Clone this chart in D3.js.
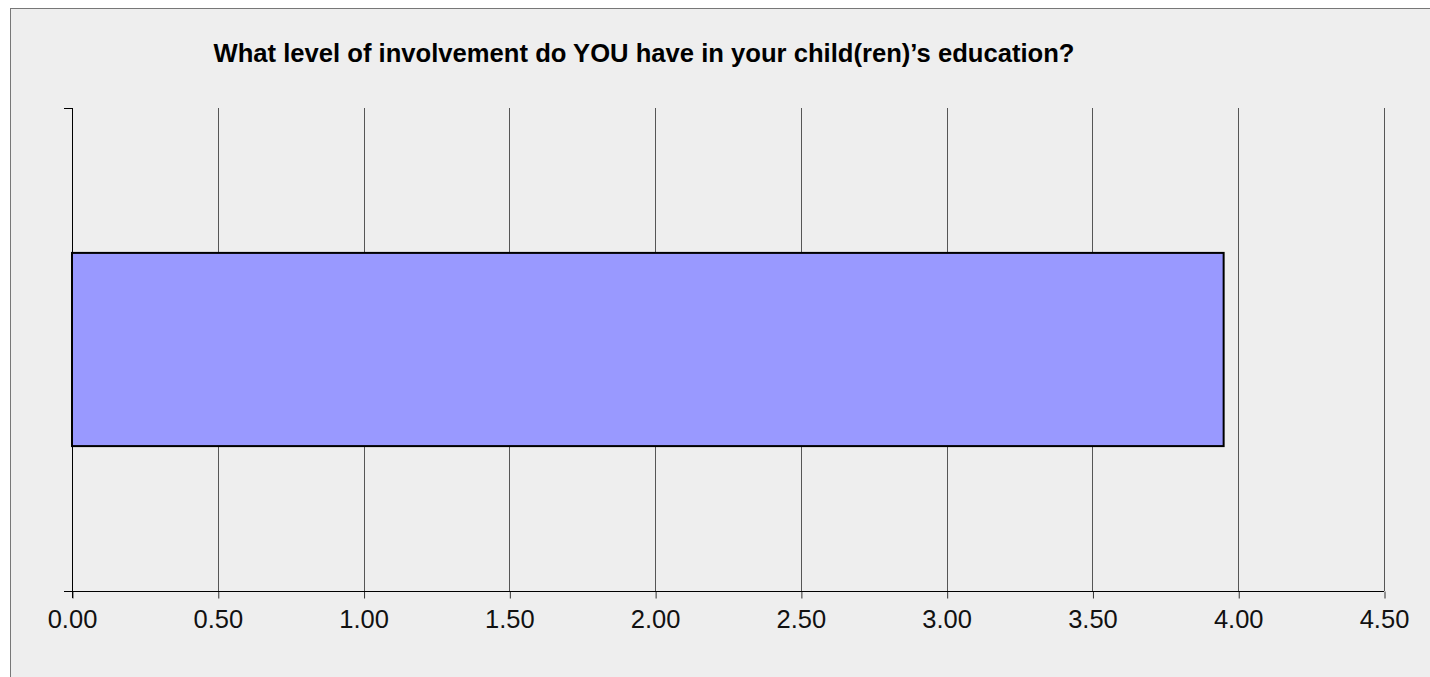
<!DOCTYPE html>
<html>
<head>
<meta charset="utf-8">
<script src="https://cdn.jsdelivr.net/npm/d3@7"></script>
<style>
  html, body { margin: 0; padding: 0; background: #ffffff; }
  svg { display: block; }
</style>
</head>
<body>
<div id="viz"></div>
<script>
// chart data
var categories = ["What level of involvement do YOU have in your child(ren)'s education?"];
var values = [3.95];
var tickValues = [0, 0.5, 1, 1.5, 2, 2.5, 3, 3.5, 4, 4.5];
var chartTitle = "What level of involvement do YOU have in your child(ren)\u2019s education?";

var width = 1430, height = 677;
var plotLeft = 72, plotRight = 1384, plotTop = 108, plotBottom = 591;

var svg = d3.select("#viz")
	.append("svg")
	.attr("width", width)
	.attr("height", height);

// panel background with border on left and top
svg.append("rect")
	.attr("x", 10.5).attr("y", 8.5)
	.attr("width", width).attr("height", height)
	.style("fill", "#eeeeee")
	.style("stroke", "#777777")
	.style("stroke-width", 1);

var x = d3.scaleLinear().domain([0, 4.5]).range([plotLeft, plotRight]);
var y = d3.scaleBand().domain(categories).range([plotTop, plotBottom]).paddingInner(0).paddingOuter(0.75);

// vertical grid lines
svg.append("g")
	.selectAll("line")
	.data(tickValues.slice(1))
	.enter().append("line")
	.attr("x1", function(d){ return Math.round(x(d)) + 0.5; })
	.attr("x2", function(d){ return Math.round(x(d)) + 0.5; })
	.attr("y1", plotTop)
	.attr("y2", plotBottom)
	.style("stroke", "#555555")
	.style("stroke-width", 1);

// bar
svg.append("g")
	.selectAll("rect")
	.data(values)
	.enter().append("rect")
	.attr("x", x(0))
	.attr("y", function(d, i){ return y(categories[i]); })
	.attr("width", function(d){ return x(d) - x(0); })
	.attr("height", y.bandwidth())
	.style("fill", "#9999ff")
	.style("stroke", "#000000")
	.style("stroke-width", 2);

// x axis
var xAxis = svg.append("g")
	.attr("transform", "translate(0," + (plotBottom + 0.5) + ")")
	.call(d3.axisBottom(x).tickValues(tickValues).tickFormat(d3.format(".2f")).tickSize(7).tickSizeOuter(0));
xAxis.select(".domain").remove();
xAxis.selectAll(".tick line").attr("stroke", "#333333").attr("transform", "translate(0.5,0)");
xAxis.selectAll(".tick text")
	.attr("dy", "0")
	.attr("y", 36)
	.style("font-family", "'Liberation Sans', Arial, sans-serif")
	.style("font-size", "25.5px")
	.style("fill", "#111111");

// axis lines
svg.append("line")
	.attr("x1", plotLeft - 8).attr("x2", plotRight)
	.attr("y1", plotBottom + 0.5).attr("y2", plotBottom + 0.5)
	.style("stroke", "#000000");
svg.append("line")
	.attr("x1", plotLeft + 0.5).attr("x2", plotLeft + 0.5)
	.attr("y1", plotTop).attr("y2", plotBottom + 7)
	.style("stroke", "#000000");
svg.append("line")
	.attr("x1", plotLeft - 8).attr("x2", plotLeft)
	.attr("y1", plotTop + 0.5).attr("y2", plotTop + 0.5)
	.style("stroke", "#000000");

// title
var title = svg.append("text")
	.attr("x", 644)
	.attr("y", 62)
	.attr("text-anchor", "middle")
	.style("font-family", "'Liberation Sans', Arial, sans-serif")
	.style("font-weight", "bold")
	.style("font-size", "25px")
	.style("fill", "#000000")
	.text(chartTitle);
title.attr("textLength", 861).attr("lengthAdjust", "spacingAndGlyphs");
</script>
</body>
</html>
